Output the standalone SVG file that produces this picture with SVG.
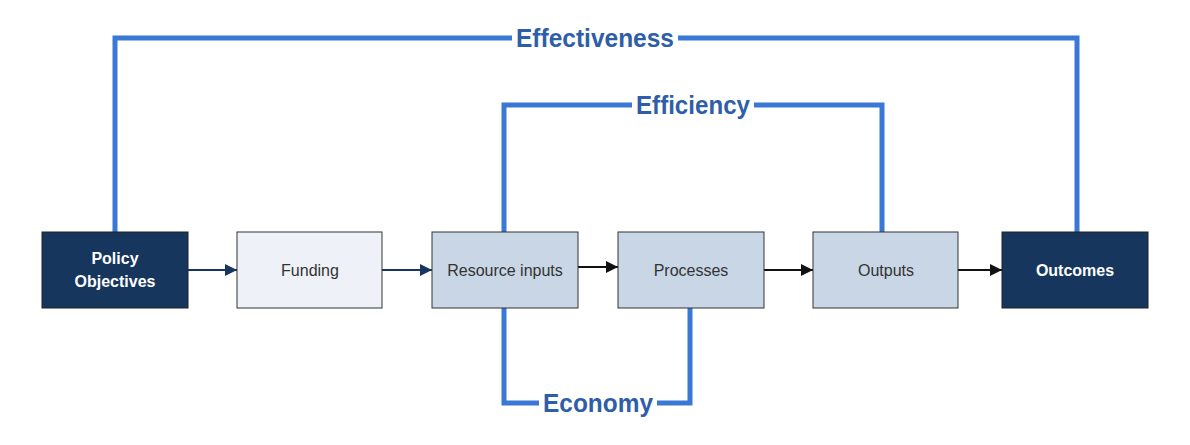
<svg xmlns="http://www.w3.org/2000/svg" width="1190" height="445" viewBox="0 0 1190 445">
<style>
.dark{fill:#17365d;stroke:#222;stroke-width:1}
.light{fill:#eef2f8;stroke:#333;stroke-width:1}
.mid{fill:#c8d6e6;stroke:#333;stroke-width:1}
.t{font-family:"Liberation Sans",Arial,sans-serif;font-size:16px;text-anchor:middle;fill:#333}
.tw{font-family:"Liberation Sans",Arial,sans-serif;font-size:16px;font-weight:bold;text-anchor:middle;fill:#fff}
.loop{fill:none;stroke:#3a78d6;stroke-width:5}
.lbl{font-family:"Liberation Sans",Arial,sans-serif;font-size:26px;font-weight:bold;text-anchor:middle;fill:#2f5ea8}
.arr{stroke:#111;stroke-width:2;fill:none}
.arrn{stroke:#17365d;stroke-width:2;fill:none}
</style>
<defs>
<marker id="ah" viewBox="0 0 10 10" refX="10" refY="5" markerWidth="6" markerHeight="6" orient="auto"><path d="M0,0 L10,5 L0,10 z" fill="#111"/></marker>
<marker id="ahn" viewBox="0 0 10 10" refX="10" refY="5" markerWidth="6" markerHeight="6" orient="auto"><path d="M0,0 L10,5 L0,10 z" fill="#17365d"/></marker>
</defs>
<rect width="1190" height="445" fill="#fff"/>
<g id="connectors">
<path class="loop" d="M115,232 V38 H1077 V232"/>
<path class="loop" d="M504,232 V105 H882 V232"/>
<path class="loop" d="M504,308 V403 H690 V308"/>
<rect x="512" y="22" width="166" height="32" fill="#fff"/>
<rect x="632" y="89" width="122" height="32" fill="#fff"/>
<rect x="539" y="387" width="118" height="32" fill="#fff"/>
<text class="lbl" x="595" y="47" textLength="158" lengthAdjust="spacingAndGlyphs">Effectiveness</text>
<text class="lbl" x="693" y="114" textLength="114" lengthAdjust="spacingAndGlyphs">Efficiency</text>
<text class="lbl" x="598" y="412" textLength="110" lengthAdjust="spacingAndGlyphs">Economy</text>
<line class="arrn" x1="188" y1="270" x2="237" y2="270" marker-end="url(#ahn)"/>
<line class="arrn" x1="382" y1="270" x2="432" y2="270" marker-end="url(#ahn)"/>
<line class="arr" x1="578" y1="267" x2="618" y2="267" marker-end="url(#ah)"/>
<line class="arr" x1="764" y1="270" x2="813" y2="270" marker-end="url(#ah)"/>
<line class="arr" x1="958" y1="270" x2="1002" y2="270" marker-end="url(#ah)"/>
</g>
<g id="policy"><rect class="dark" x="42" y="232" width="146" height="76"/><text class="tw" x="115" y="264">Policy</text><text class="tw" x="115" y="287">Objectives</text></g>
<g id="funding"><rect class="light" x="237" y="232" width="145" height="76"/><text class="t" x="310" y="276">Funding</text></g>
<g id="resource"><rect class="mid" x="432" y="232" width="146" height="76"/><text class="t" x="505" y="276">Resource inputs</text></g>
<g id="processes"><rect class="mid" x="618" y="232" width="146" height="76"/><text class="t" x="691" y="276">Processes</text></g>
<g id="outputs"><rect class="mid" x="813" y="232" width="145" height="76"/><text class="t" x="886" y="276">Outputs</text></g>
<g id="outcomes"><rect class="dark" x="1002" y="232" width="146" height="76"/><text class="tw" x="1075" y="276">Outcomes</text></g>
</svg>
